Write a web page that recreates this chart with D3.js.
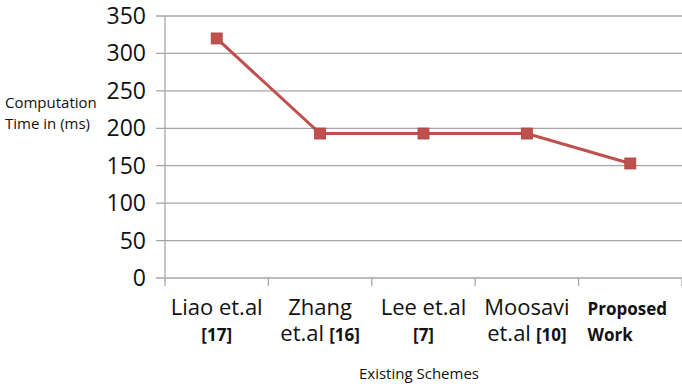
<!DOCTYPE html>
<html>
<head>
<meta charset="utf-8">
<script src="https://cdn.jsdelivr.net/npm/d3@7"></script>
<style>
  body { margin: 0; background: #fff; }
  svg { font-family: "Open Sans", sans-serif; }
</style>
</head>
<body>
<svg id="chart"></svg>
<script>
// data
var schemes = ["Liao et.al [17]", "Zhang et.al [16]", "Lee et.al [7]", "Moosavi et.al [10]", "Proposed Work"];
var times = [320, 193, 193, 193, 153];
var yTicks = [0, 50, 100, 150, 200, 250, 300, 350];
// label lines: [text, bold] pieces per line
var labelLine1 = [[["Liao et.al", 0]], [["Zhang", 0]], [["Lee et.al", 0]], [["Moosavi", 0]], [["Proposed", 1]]];
var labelLine2 = [[["[17]", 1]], [["et.al", 0], ["[16]", 1]], [["[7]", 1]], [["et.al", 0], ["[10]", 1]], [["Work", 1]]];

var width = 682, height = 387;
var padLeft = 165, padRight = 682, padTop = 16, padBottom = 278;
var red = "#c0504d", grid = "#a6a6a6";

var svg = d3.select("#chart").attr("width", width).attr("height", height);

var x = d3.scaleBand().domain(schemes).range([padLeft, padRight]);
var y = d3.scaleLinear().domain([0, 350]).range([padBottom, padTop]);

// horizontal gridlines + y labels
svg.selectAll(".grid").data(yTicks).enter().append("line")
  .attr("x1", padLeft - 9).attr("x2", padRight)
  .attr("y1", function(d) { return y(d); }).attr("y2", function(d) { return y(d); })
  .attr("stroke", grid).attr("stroke-width", 1.3);

svg.selectAll(".ylab").data(yTicks).enter().append("text")
  .attr("x", 146).attr("y", function(d) { return y(d) + 8; })
  .attr("text-anchor", "end").attr("font-size", 23).attr("fill", "#111")
  .text(function(d) { return d; });

// y axis line
svg.append("line").attr("x1", padLeft).attr("x2", padLeft).attr("y1", padTop).attr("y2", padBottom + 8)
  .attr("stroke", grid).attr("stroke-width", 1.3);

// category ticks
var bounds = schemes.map(function(d) { return x(d) + x.bandwidth(); });
svg.selectAll(".xtick").data(bounds).enter().append("line")
  .attr("x1", function(d) { return d; }).attr("x2", function(d) { return d; })
  .attr("y1", padBottom).attr("y2", padBottom + 8)
  .attr("stroke", grid).attr("stroke-width", 1.3);

// x labels: pieces laid side by side, line centred (last category left aligned)
function addLine(pieces, i, yy) {
  var nodes = pieces.map(function(p) {
    return svg.append("text").attr("y", yy).attr("fill", "#111")
      .attr("font-weight", p[1] ? "bold" : "normal")
      .attr("font-size", p[1] ? 17 : 22).text(p[0]);
  });
  var gap = 5;
  var widths = nodes.map(function(n) { return n.node().getComputedTextLength(); });
  var total = d3.sum(widths) + gap * (nodes.length - 1);
  var cx = x(schemes[i]) + x.bandwidth() / 2;
  var start = i == schemes.length - 1 ? x(schemes[i]) + 9 : cx - total / 2;
  nodes.forEach(function(n, j) {
    n.attr("x", start);
    start += widths[j] + gap;
  });
}
labelLine1.forEach(function(l, i) { addLine(l, i, 315); });
labelLine2.forEach(function(l, i) { addLine(l, i, 341); });

// line + markers
var line = d3.line()
  .x(function(d, i) { return x(schemes[i]) + x.bandwidth() / 2; })
  .y(function(d) { return y(d); });

svg.append("path").datum(times).attr("d", line)
  .attr("fill", "none").attr("stroke", red).attr("stroke-width", 3);

svg.selectAll(".pt").data(times).enter().append("rect")
  .attr("x", function(d, i) { return x(schemes[i]) + x.bandwidth() / 2 - 5.5; })
  .attr("y", function(d) { return y(d) - 5.5; })
  .attr("width", 11).attr("height", 11)
  .attr("fill", red).attr("stroke", "#b0413e").attr("stroke-width", 0.8);

// axis titles
svg.append("text").attr("x", 5).attr("y", 108).attr("font-size", 15).attr("fill", "#111").text("Computation");
svg.append("text").attr("x", 5).attr("y", 129).attr("font-size", 15).attr("fill", "#111").text("Time in (ms)");
svg.append("text").attr("x", 419).attr("y", 379).attr("text-anchor", "middle")
  .attr("font-size", 15).attr("fill", "#111").text("Existing Schemes");
</script>
</body>
</html>
